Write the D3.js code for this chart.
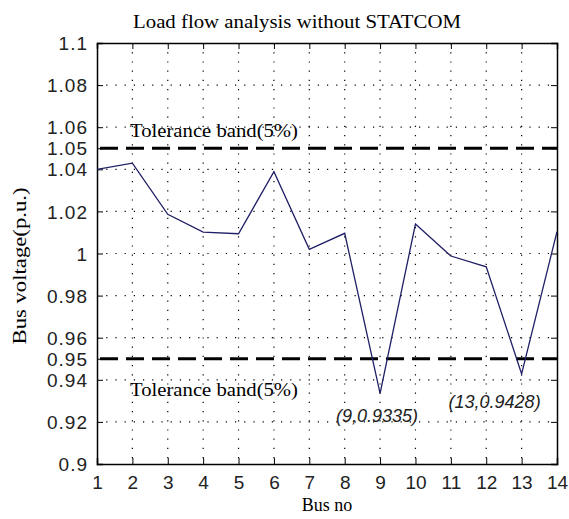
<!DOCTYPE html>
<html>
<head>
<meta charset="utf-8">
<script src="https://cdn.jsdelivr.net/npm/d3@7"></script>
<style>
  body { margin: 0; background: #fff; }
  svg { display: block; }
</style>
</head>
<body>
<div id="chart"></div>
<script>
"use strict";

const busNo = [1, 2, 3, 4, 5, 6, 7, 8, 9, 10, 11, 12, 13, 14];
const busVoltage = [1.04, 1.0429, 1.0186, 1.0102, 1.0094, 1.0389, 1.002, 1.0096, 0.9335, 1.014, 0.9988, 0.9937, 0.9428, 1.0104];
const yTicks = [0.9, 0.92, 0.94, 0.95, 0.96, 0.98, 1, 1.02, 1.04, 1.05, 1.06, 1.08, 1.1];
const gridY = [0.92, 0.94, 0.96, 0.98, 1, 1.02, 1.04, 1.06, 1.08];
const toleranceLimits = [0.95, 1.05];
const minPoints = [
  { bus: 9, v: 0.9335, label: "(9,0.9335)" },
  { bus: 13, v: 0.9428, label: "(13,0.9428)" },
];

const width = 569;
const height = 519;
const margin = { top: 43, right: 12, bottom: 55, left: 97 };

const svg = d3
  .select("#chart")
  .append("svg")
  .attr("width", width)
  .attr("height", height);

const x = d3.scaleLinear().domain([1, 14]).range([margin.left, width - margin.right]);
const y = d3.scaleLinear().domain([0.9, 1.1]).range([height - margin.bottom, margin.top]);

const serif = "'Liberation Serif', 'Times New Roman', serif";
const sans = "'Liberation Sans', Arial, sans-serif";

// grille pointillée
svg
  .append("g")
  .selectAll("line")
  .data(busNo.slice(1, -1))
  .join("line")
  .attr("x1", (d) => x(d))
  .attr("x2", (d) => x(d))
  .attr("y1", y(1.1))
  .attr("y2", y(0.9))
  .attr("stroke", "#000")
  .attr("stroke-width", 1.2)
  .attr("stroke-dasharray", "1.2,8");

svg
  .append("g")
  .selectAll("line")
  .data(gridY)
  .join("line")
  .attr("x1", x(1))
  .attr("x2", x(14))
  .attr("y1", (d) => y(d))
  .attr("y2", (d) => y(d))
  .attr("stroke", "#000")
  .attr("stroke-width", 1.2)
  .attr("stroke-dasharray", "1.2,8");

// axes (ticks vers l'intérieur, comme matlab)
const yAxis = d3.axisLeft(y).tickValues(yTicks).tickSize(-6).tickPadding(9)
  .tickFormat((d) => d3.format("")(+d.toFixed(2)));
const gy = svg.append("g").attr("transform", `translate(${x(1)},0)`).call(yAxis);
svg.append("g").attr("transform", `translate(${x(14)},0)`)
  .call(d3.axisRight(y).tickValues(yTicks).tickSize(-6).tickFormat(""));

const xAxis = d3.axisBottom(x).tickValues(busNo).tickSize(-6).tickPadding(12);
const gx = svg.append("g").attr("transform", `translate(0,${y(0.9)})`).call(xAxis);
svg.append("g").attr("transform", `translate(0,${y(1.1)})`)
  .call(d3.axisTop(x).tickValues(busNo).tickSize(-6).tickFormat(""));

svg.selectAll(".domain").attr("stroke", "#000").attr("stroke-width", 1.5);
svg.selectAll(".tick line").attr("stroke", "#000");

gy.selectAll("text")
  .style("font-family", sans)
  .style("font-size", "19px")
  .style("letter-spacing", "1px")
  .attr("dy", "0.35em")
  .attr("fill", "#222");
gx.selectAll("text")
  .style("font-family", sans)
  .style("font-size", "19px")
  .attr("fill", "#222");

// bandes de tolérance
svg
  .append("g")
  .selectAll("line")
  .data(toleranceLimits)
  .join("line")
  .attr("x1", x(1) + 3)
  .attr("x2", x(14))
  .attr("y1", (d) => y(d))
  .attr("y2", (d) => y(d))
  .attr("stroke", "#000")
  .attr("stroke-width", 3)
  .attr("stroke-dasharray", "18,8");

// courbe
const line = d3
  .line()
  .x((d, i) => x(busNo[i]))
  .y((d) => y(d));

svg
  .append("path")
  .datum(busVoltage)
  .attr("d", line)
  .attr("fill", "none")
  .attr("stroke", "#1f1f66")
  .attr("stroke-width", 1.3);

// textes
svg
  .append("text")
  .attr("x", 297)
  .attr("y", 28)
  .attr("text-anchor", "middle")
  .attr("textLength", 328)
  .attr("lengthAdjust", "spacingAndGlyphs")
  .style("font-family", serif)
  .style("font-size", "19px")
  .text("Load flow analysis without STATCOM");

svg
  .append("text")
  .attr("x", 327)
  .attr("y", 511)
  .attr("text-anchor", "middle")
  .style("font-family", serif)
  .style("font-size", "18px")
  .text("Bus no");

svg
  .append("text")
  .attr("transform", "translate(26,266) rotate(-90)")
  .attr("text-anchor", "middle")
  .attr("textLength", 157)
  .attr("lengthAdjust", "spacingAndGlyphs")
  .style("font-family", serif)
  .style("font-size", "19px")
  .text("Bus voltage(p.u.)");

svg
  .append("g")
  .selectAll("text")
  .data(toleranceLimits)
  .join("text")
  .attr("x", 130)
  .attr("y", (d) => (d > 1 ? y(d) - 11 : y(d) + 37))
  .attr("textLength", 168)
  .attr("lengthAdjust", "spacingAndGlyphs")
  .style("font-family", serif)
  .style("font-size", "19px")
  .text("Tolerance band(5%)");

svg
  .append("g")
  .selectAll("text")
  .data(minPoints)
  .join("text")
  .attr("x", (d) => (d.bus === 9 ? x(d.bus) - 3 : x(d.bus) - 27))
  .attr("y", (d) => (d.bus === 9 ? y(d.v) + 29 : y(d.v) + 34))
  .attr("text-anchor", "middle")
  .style("font-family", sans)
  .style("font-style", "italic")
  .style("font-size", "18px")
  .attr("fill", "#222")
  .text((d) => d.label);
</script>
</body>
</html>
